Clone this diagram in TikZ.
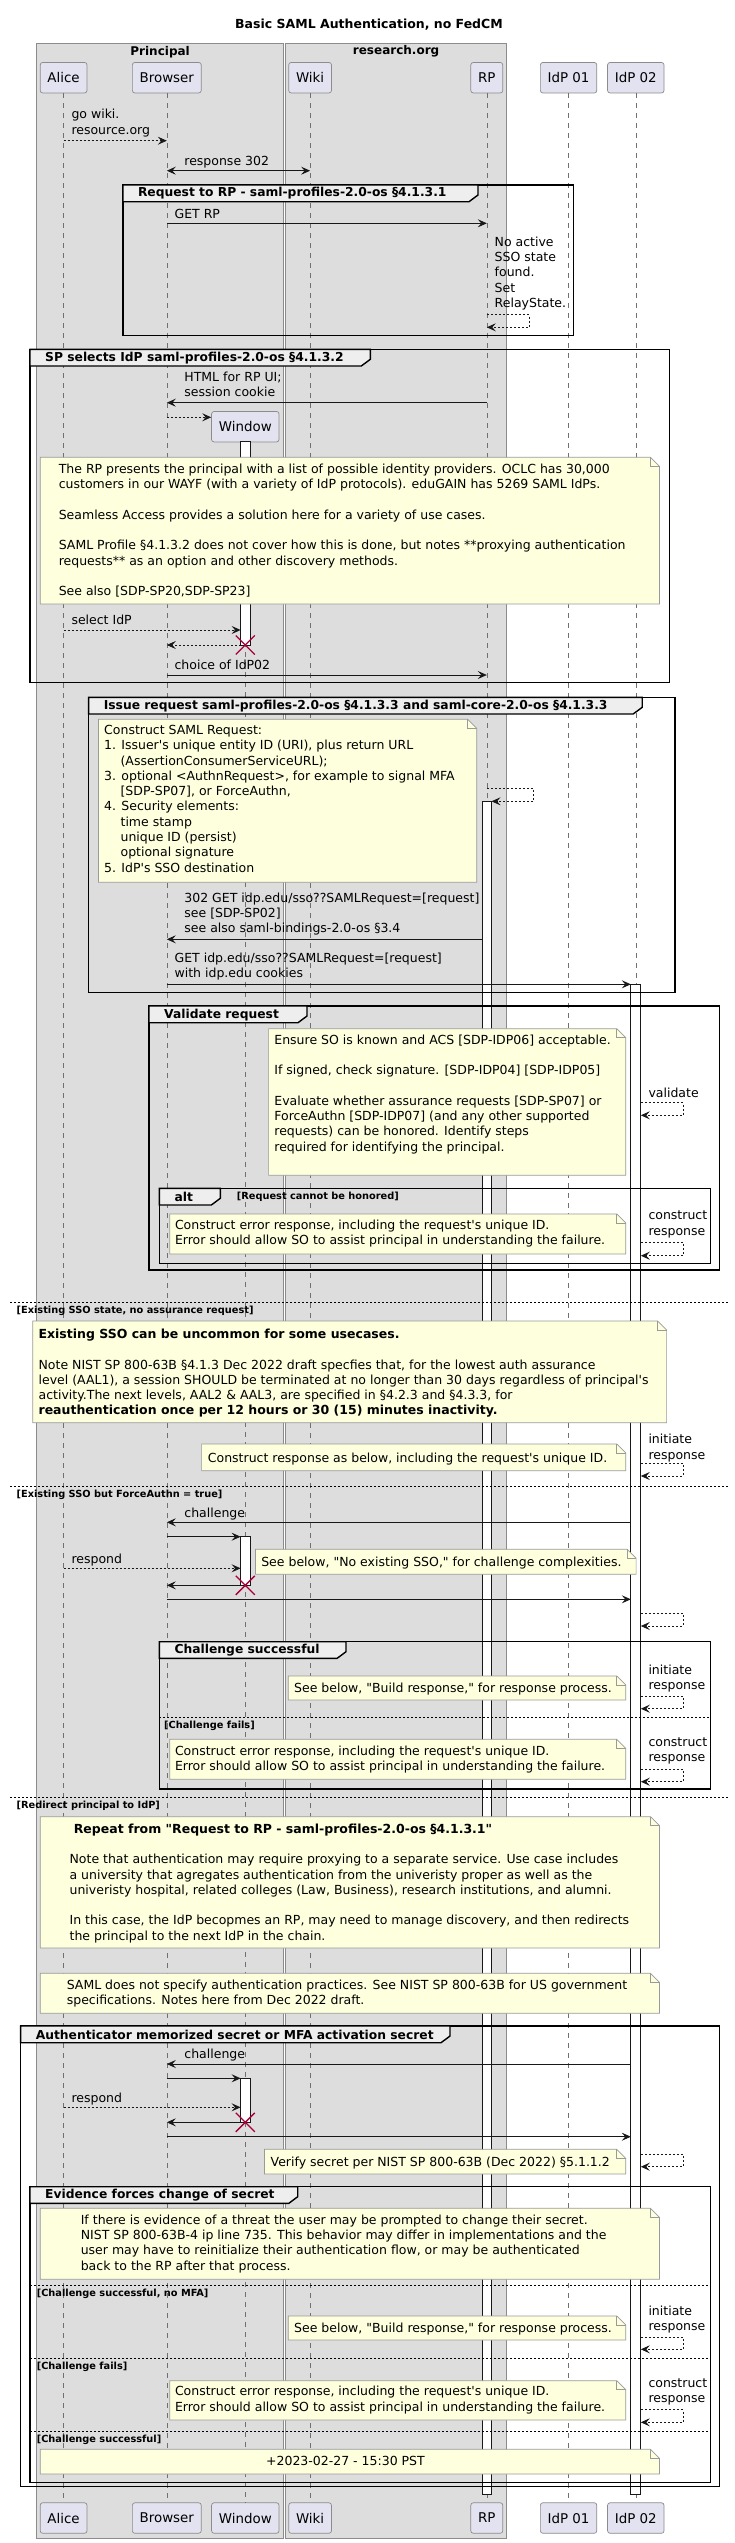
\documentclass[tikz,border=0pt]{standalone}
\usepackage{fontspec}
\setmainfont{DejaVu Sans}[Ligatures=TeXOff]
\usetikzlibrary{arrows.meta}

\definecolor{grpfill}{HTML}{DDDDDD}
\definecolor{grpline}{HTML}{8C8C8C}
\definecolor{actorfill}{HTML}{E2E2F0}
\definecolor{notefill}{HTML}{FEFFDD}
\definecolor{noteline}{HTML}{9A9A9A}
\definecolor{tabfill}{HTML}{EEEEEE}
\definecolor{killred}{HTML}{A80036}
\definecolor{ink}{HTML}{181818}

\tikzset{
    >={Stealth[length=9pt,width=8pt,inset=3.5pt]},
    grp/.style={draw=grpline, fill=grpfill, line width=0.8pt},
    grptitle/.style={inner sep=0, font=\bfseries\fontsize{12}{14}\selectfont},
    heading/.style={inner sep=0, font=\bfseries\fontsize{12.5}{15}\selectfont},
    actor/.style={draw=grpline, fill=actorfill, rounded corners=2.5pt, line width=0.7pt, minimum height=30.5pt, inner xsep=7.3pt, font=\fontsize{13.4}{16}\selectfont},
    lifeline/.style={draw=grpline!80!black, line width=0.6pt, dash pattern=on 5pt off 5pt},
    actbar/.style={draw=ink, fill=white, line width=0.8pt},
    msg/.style={draw=ink, line width=0.8pt, ->},
    twoway/.style={msg, <->},
    ret/.style={msg, dash pattern=on 2pt off 2pt},
    kill/.style={draw=killred, line width=1.3pt},
    lbl/.style={anchor=north west, inner sep=0, align=left, font=\fontsize{12.5}{15.3}\selectfont, execute at begin node=\strut},
    guard/.style={anchor=west, inner sep=0, font=\bfseries\fontsize{9.8}{12}\selectfont},
    frameline/.style={draw=black, line width=1.4pt},
    frametab/.style={draw=black, fill=tabfill, line width=1.4pt},
    framelbl/.style={anchor=west, inner sep=0, font=\bfseries\fontsize{12.3}{14}\selectfont},
    divider/.style={draw=black, line width=0.8pt, dash pattern=on 2pt off 2pt},
    noteshape/.style={draw=noteline, fill=notefill, line width=0.7pt}
}

\newcommand\frm[7]{%
    \draw[frameline] (#2,#3) rectangle (#4,#5);
    \draw[frametab] (#2,#3) -- (#6,#3) -- (#6,#3+10) -- (#6-9,#3+16.7) -- (#2,#3+16.7) -- cycle;
    \node[framelbl] (#1) at (#2+15,#3+8.6) {#7};
}
\newcommand\notebox[4]{%
    \draw[noteshape] (#1,#2) -- (#3-9,#2) -- (#3,#2+9) -- (#3,#4) -- (#1,#4) -- cycle;
    \draw[noteshape, fill=none] (#3-9,#2) -- (#3-9,#2+9) -- (#3,#2+9);
}
\newcommand\selfmsg[3]{\draw[ret] (#1 |- 0,#2) -- ++(42.2,0) |- (#1 |- 0,#3);}
\newcommand\killmark[1]{\draw[kill] (window |- 0,#1) +(-9.5,-9.5) -- +(9.5,9.5) +(-9.5,9.5) -- +(9.5,-9.5);}
\newcommand\errtext{Construct error response, including the request's unique ID.\\Error should allow SO to assist principal in understanding the failure.}
\newcommand\buildtext{See below, "Build response," for response process.}

\begin{document}
\begin{tikzpicture}[x=1pt, y=-1pt]
    \useasboundingbox (0,0) rectangle (735,2543);
    \draw[grp] (36.6,43.3) rectangle (283.6,2538.3);
    \draw[grp] (285.5,43.3) rectangle (506.7,2538.3);
    \node[grptitle] (principal) at (160.1,51.7) {Principal};
    \node[grptitle] (research) at (396.1,51.7) {research.org};
    \node[heading] (heading) at (369,25) {Basic SAML Authentication, no FedCM};

    \foreach \n/\x/\lab in {alice/63.6/Alice, browser/166.8/Browser, wiki/310.1/Wiki, rp/486.8/RP, idpa/568.6/IdP 01, idpb/635.8/IdP 02} {
        \node[actor] (\n) at (\x,77.7) {\lab};
        \node[actor] (\n2) at (\x,2518) {\lab};
    }
    \node[actor] (window) at (245.3,426.7) {Window};
    \node[actor] (window2) at (245.3,2518) {Window};
    \foreach \n in {alice,browser,window,wiki,rp,idpa,idpb}
        \draw[lifeline] (\n.south) -- (\n2.north);

    \coordinate (winL) at ([xshift=-4.7pt]window.center);
    \coordinate (winR) at ([xshift=4.7pt]window.center);
    \coordinate (rpL) at ([xshift=-4.7pt]rp.center);
    \coordinate (rpR) at ([xshift=4.7pt]rp.center);
    \coordinate (ibL) at ([xshift=-5pt]idpb.center);
    \coordinate (ibR) at ([xshift=5pt]idpb.center);

    \draw[actbar] (winL |- 0,441.7) rectangle (winR |- 0,645);
    \draw[actbar] (winL |- 0,1536.7) rectangle (winR |- 0,1585.3);
    \draw[actbar] (winL |- 0,2078.3) rectangle (winR |- 0,2122.3);
    \draw[actbar] (rpL |- 0,801.3) rectangle (rpR |- 0,2494);
    \draw[actbar] (ibL |- 0,984.3) rectangle (ibR |- 0,2494);

    \draw[ret] (alice |- 0,140.7) -- (browser |- 0,140.7);
    \node[lbl] (m1) at (71.3,109.3) {go wiki.\\resource.org};
    \draw[twoway] (browser |- 0,170.7) -- (wiki |- 0,170.7);
    \node[lbl] (m2) at (184.2,154.6) {response 302};

    \frm{f1}{122.8}{185}{573.3}{335.3}{478}{Request to RP - saml-profiles-2.0-os §4.1.3.1}
    \draw[msg] (browser |- 0,223.3) -- (rp |- 0,223.3);
    \node[lbl] (m3) at (174.4,207.2) {GET RP};
    \node[lbl] (m4) at (494.5,236.5) {No active\\SSO state\\found.\\Set\\RelayState.};
    \selfmsg{rp}{314.7}{327.3}

    \frm{f2}{30}{349.3}{669.4}{682.7}{370.3}{SP selects IdP saml-profiles-2.0-os §4.1.3.2}
    \draw[msg] (rp |- 0,402.7) -- (browser |- 0,402.7);
    \node[lbl] (m5) at (184.2,371.3) {HTML for RP UI;\\session cookie};
    \draw[ret] (browser |- 0,417.3) -- (window.west |- 0,417.3);
    \notebox{40.3}{457.3}{659.5}{604}
    \node[lbl] (n1) at (58.6,463.7) {The RP presents the principal with a list of possible identity providers. OCLC has 30,000\\
        customers in our WAYF (with a variety of IdP protocols). eduGAIN has 5269 SAML IdPs.\\[15.3pt]
        Seamless Access provides a solution here for a variety of use cases.\\[15.3pt]
        SAML Profile §4.1.3.2 does not cover how this is done, but notes **proxying authentication\\
        requests** as an option and other discovery methods.\\[15.3pt]
        See also [SDP-SP20,SDP-SP23]};
    \draw[ret] (alice |- 0,630) -- (winL |- 0,630);
    \node[lbl] (m6) at (71.3,613.9) {select IdP};
    \draw[ret] (winL |- 0,645) -- (browser |- 0,645);
    \killmark{645}
    \draw[msg] (browser |- 0,675) -- (rp |- 0,675);
    \node[lbl] (m7) at (174.4,658.9) {choice of IdP02};

    \frm{f3}{88.6}{697.3}{675}{992.7}{642.2}{Issue request saml-profiles-2.0-os §4.1.3.3 and saml-core-2.0-os §4.1.3.3}
    \notebox{98.4}{719.3}{476.7}{882.3}
    \node[lbl] (n2) at (104,725) {Construct SAML Request:\\
        1. Issuer's unique entity ID (URI), plus return URL\\
        \hspace*{16.4pt}(AssertionConsumerServiceURL);\\
        3. optional <AuthnRequest>, for example to signal MFA\\
        \hspace*{16.4pt}[SDP-SP07], or ForceAuthn,\\
        4. Security elements:\\
        \hspace*{16.4pt}time stamp\\
        \hspace*{16.4pt}unique ID (persist)\\
        \hspace*{16.4pt}optional signature\\
        5. IdP's SSO destination};
    \draw[ret] (rp |- 0,788.7) -| ([xshift=42.2pt]rpR |- 0,801.3) -- (rpR |- 0,801.3);
    \draw[msg] (rpL |- 0,939.3) -- (browser |- 0,939.3);
    \node[lbl] (m8) at (184.2,892.6) {302 GET idp.edu/sso??SAMLRequest=[request]\\see [SDP-SP02]\\see also saml-bindings-2.0-os §3.4};
    \draw[msg] (browser |- 0,984.3) -- (ibL |- 0,984.3);
    \node[lbl] (m9) at (174.4,952.9) {GET idp.edu/sso??SAMLRequest=[request]\\with idp.edu cookies};

    \frm{f4}{149}{1006}{719.5}{1270}{307}{Validate request}
    \notebox{268.6}{1028.7}{625.8}{1175.3}
    \node[lbl] (n3) at (274.2,1034.4) {Ensure SO is known and ACS [SDP-IDP06] acceptable.\\[15.3pt]
        If signed, check signature. [SDP-IDP04] [SDP-IDP05]\\[15.3pt]
        Evaluate whether assurance requests [SDP-SP07] or\\
        ForceAuthn [SDP-IDP07] (and any other supported\\
        requests) can be honored. Identify steps\\
        required for identifying the principal.};
    \node[lbl] (m10) at (648.3,1086.6) {validate};
    \selfmsg{ibR}{1102.7}{1115.3}
    \frm{f5}{159.4}{1188.3}{710.2}{1263.3}{220.3}{alt}
    \node[guard] (g1) at (236.7,1197) {[Request cannot be honored]};
    \notebox{169.7}{1214}{625.8}{1254}
    \node[lbl] (n4) at (174.8,1219.4) {\errtext};
    \node[lbl] (m11) at (648.3,1210.9) {construct\\response};
    \selfmsg{ibR}{1242.3}{1255.7}

    \foreach \y/\lab [count=\i] in {1302.7/{[Existing SSO state, no assurance request]}, 1486/{[Existing SSO but ForceAuthn = true]}, 1797.3/{[Redirect principal to IdP]}} {
        \draw[divider] (10.3,\y) -- (729,\y);
        \node[guard] (alt\i) at (16.4,\y+8.5) {\lab};
    }
    \notebox{32.8}{1321}{666.6}{1422.7}
    \node[lbl] (n5) at (38.4,1328.7) {\textbf{Existing SSO can be uncommon for some usecases.}\\[15.3pt]
        Note NIST SP 800-63B §4.1.3 Dec 2022 draft specfies that, for the lowest auth assurance\\
        level (AAL1), a session SHOULD be terminated at no longer than 30 days regardless of principal's\\
        activity.The next levels, AAL2 \& AAL3, are specified in §4.2.3 and §4.3.3, for\\
        \textbf{reauthentication once per 12 hours or 30 (15) minutes inactivity.}};
    \notebox{201.6}{1444}{625.8}{1470.7}
    \node[lbl] (n6) at (207.7,1451.4) {Construct response as below, including the request's unique ID.};
    \node[lbl] (m12) at (648.3,1434) {initiate\\response};
    \selfmsg{ibR}{1463.5}{1476}

    \draw[msg] (ibL |- 0,1522.3) -- (browser |- 0,1522.3);
    \node[lbl] (m13) at (184.2,1506.2) {challenge};
    \draw[msg] (browser |- 0,1536.7) -- (winL |- 0,1536.7);
    \draw[ret] (alice |- 0,1568.3) -- (winL |- 0,1568.3);
    \node[lbl] (m14) at (71.3,1552.2) {respond};
    \notebox{255.5}{1549.3}{636.1}{1574.3}
    \node[lbl] (n7) at (261.1,1555.4) {See below, "No existing SSO," for challenge complexities.};
    \draw[msg] (winL |- 0,1585.3) -- (browser |- 0,1585.3);
    \killmark{1585.3}
    \draw[msg] (browser |- 0,1599.3) -- (ibL |- 0,1599.3);
    \selfmsg{ibR}{1613.3}{1626}

    \frm{f6}{159.4}{1641.7}{710.2}{1789}{346}{Challenge successful}
    \notebox{288.3}{1676}{625.8}{1700}
    \node[lbl] (n8) at (294,1681.7) {\buildtext};
    \node[lbl] (m15) at (648.3,1664.6) {initiate\\response};
    \selfmsg{ibR}{1696}{1708.7}
    \draw[divider] (159.4,1717.3) -- (710.2,1717.3);
    \node[guard] (g2) at (164,1725.8) {[Challenge fails]};
    \notebox{169.7}{1739.3}{625.8}{1779.3}
    \node[lbl] (n9) at (174.8,1745.4) {\errtext};
    \node[lbl] (m16) at (648.3,1737.6) {construct\\response};
    \selfmsg{ibR}{1769}{1781.7}

    \notebox{40.3}{1816.7}{659.5}{1948}
    \node[lbl] (n10) at (69.4,1823.4) {\hspace*{4.2pt}\textbf{Repeat from "Request to RP - saml-profiles-2.0-os §4.1.3.1"}\\[15.3pt]
        Note that authentication may require proxying to a separate service. Use case includes\\
        a university that agregates authentication from the univeristy proper as well as the\\
        univeristy hospital, related colleges (Law, Business), research institutions, and alumni.\\[15.3pt]
        In this case, the IdP becopmes an RP, may need to manage discovery, and then redirects\\
        the principal to the next IdP in the chain.};
    \notebox{40.3}{1973.3}{659.5}{2013.3}
    \node[lbl] (n11) at (66.6,1979.7) {SAML does not specify authentication practices. See NIST SP 800-63B for US government\\
        specifications. Notes here from Dec 2022 draft.};

    \frm{f7}{20.6}{2026}{719.5}{2486.7}{450}{Authenticator memorized secret or MFA activation secret}
    \draw[msg] (ibL |- 0,2064) -- (browser |- 0,2064);
    \node[lbl] (m17) at (184.2,2047.9) {challenge};
    \draw[msg] (browser |- 0,2078.3) -- (winL |- 0,2078.3);
    \draw[ret] (alice |- 0,2107.3) -- (winL |- 0,2107.3);
    \node[lbl] (m18) at (71.3,2091.2) {respond};
    \draw[msg] (winL |- 0,2122.3) -- (browser |- 0,2122.3);
    \killmark{2122.3}
    \draw[msg] (browser |- 0,2136.7) -- (ibL |- 0,2136.7);
    \notebox{264.4}{2149.3}{625.8}{2174}
    \node[lbl] (n12) at (270.5,2155.4) {Verify secret per NIST SP 800-63B (Dec 2022) §5.1.1.2};
    \selfmsg{ibR}{2154}{2166.7}

    \frm{f8}{30}{2186.7}{710.2}{2482.3}{297.7}{Evidence forces change of secret}
    \notebox{40.3}{2208.3}{659.5}{2279.3}
    \node[lbl] (n13) at (80.6,2214.4) {If there is evidence of a threat the user may be prompted to change their secret.\\
        NIST SP 800-63B-4 ip line 735. This behavior may differ in implementations and the\\
        user may have to reinitialize their authentication flow, or may be authenticated\\
        back to the RP after that process.};
    \foreach \y/\lab [count=\i] in {2285/{[Challenge successful, no MFA]}, 2358.3/{[Challenge fails]}, 2431.7/{[Challenge successful]}} {
        \draw[divider] (30,\y) -- (710.2,\y);
        \node[guard] (ev\i) at (36.6,\y+8.5) {\lab};
    }
    \notebox{288.3}{2316}{625.8}{2340}
    \node[lbl] (n14) at (294,2321.7) {\buildtext};
    \node[lbl] (m19) at (648.3,2305.6) {initiate\\response};
    \selfmsg{ibR}{2337}{2349.3}
    \notebox{169.7}{2380.7}{625.8}{2420}
    \node[lbl] (n15) at (174.8,2386) {\errtext};
    \node[lbl] (m20) at (648.3,2378.3) {construct\\response};
    \selfmsg{ibR}{2409.7}{2422.3}
    \notebox{40.3}{2449.3}{659.5}{2474}
    \node[lbl, anchor=center] (n16) at (345.5,2462.5) {+2023-02-27 - 15:30 PST};
\end{tikzpicture}
\end{document}
